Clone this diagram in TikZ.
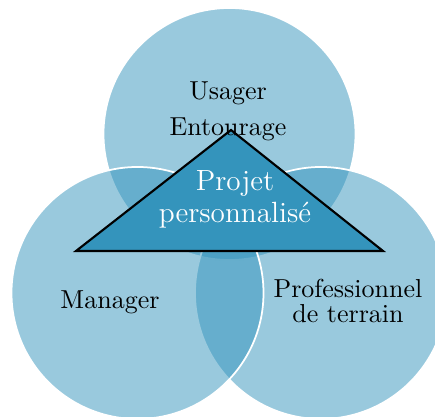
\documentclass[tikz,border=0pt]{standalone}
\usepackage{tikz}
\definecolor{vennblue}{RGB}{52,148,188}
\tikzset{
  venn/.style={circle, minimum size=100.8pt, inner sep=0pt, fill=vennblue, fill opacity=0.5, draw=white, draw opacity=1, line width=0.7pt},
  label text/.style={align=center, font=\fontsize{10.4}{14.4}\selectfont, text=black},
  core text/.style={align=center, font=\fontsize{11.7}{12.8}\selectfont, text=white}
}
\begin{document}
\begin{tikzpicture}[x=0.4pt, y=-0.4pt]
    \useasboundingbox (0,0) rectangle (435,417);
    % circles
    \node[venn] (top) at (229.5,134) {};
    \node[venn] (right) at (321,293) {};
    \node[venn] (left) at (137.5,293) {};
    % triangle
    \coordinate (apex) at (231,130);
    \coordinate (baseL) at (76,251);
    \coordinate (baseR) at (383,251);
    \draw[fill=vennblue, line width=0.85pt, line join=miter] (apex) -- (baseR) -- (baseL) -- cycle;
    % texts
    \node[label text] (usager) at (228,111) {Usager\\Entourage};
    \node[label text] (manager) at (110,302) {Manager};
    \node[label text, font=\fontsize{10.4}{10}\selectfont] (pro) at (348,301) {Professionnel\\de terrain};
    \node[core text] (projet) at (235,199) {Projet\\personnalisé};
\end{tikzpicture}
\end{document}
